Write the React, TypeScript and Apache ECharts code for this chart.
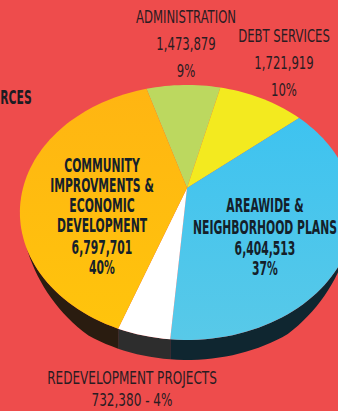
import React, { useEffect, useRef } from "react";
import * as echarts from "echarts";

const categories = ["Administration", "Debt Services", "Areawide & Neighborhood Plans", "Redevelopment Projects", "Community Improvments & Economic Development"];
const amounts = [1473879, 1721919, 6404513, 732380, 6797701];
const heavyTexts = ["COMMUNITY", "IMPROVMENTS &", "ECONOMIC", "DEVELOPMENT", "6,797,701", "40%", "AREAWIDE &", "NEIGHBORHOOD PLANS", "6,404,513", "37%"];
const lightTexts = ["ADMINISTRATION", "1,473,879", "9%", "DEBT SERVICES", "1,721,919", "10%", "REDEVELOPMENT PROJECTS", "732,380 - 4%"];

const topColors = ["#bcd85f", "#f3ea1f", "#3ec3f0", "#ffffff", "#ffb512"];
const bottomColors = ["#bcd85f", "#f3ea1f", "#58c9e8", "#ffffff", "#ffc40c"];
const wallColors = ["#7a8a3a", "#8a8416", "#0f2630", "#2d2d2d", "#2a1c10"];
const heavyAt = [[102, 165], [102, 185], [102, 205], [102, 225], [102, 247], [102, 267], [265, 205], [265, 227], [265, 248], [265, 268]];
const lightAt = [[186, 17], [186, 44], [186, 71], [284, 36], [284, 63], [284, 90], [132, 378], [132, 400]];
const lightScale = [0.72, 0.72, 0.72, 0.72, 0.72, 0.72, 0.745, 0.745];

const total = amounts.reduce((a, b) => a + b, 0);
const START = -17;
const project = (deg: number) => {
  const r = (deg * Math.PI) / 180;
  const u = Math.sin(r);
  const v = -Math.cos(r);
  const d = 1 - 0.192 * v;
  return [187 + (164 * u) / d, 188 + (122.8 * v) / d];
};
const arc = (a: number, b: number) => {
  const pts: number[][] = [];
  const n = Math.max(4, Math.ceil(Math.abs(b - a) / 2));
  for (let i = 0; i <= n; i++) pts.push(project(a + ((b - a) * i) / n));
  return pts;
};

export default function App() {
  const ref = useRef<HTMLDivElement>(null);
  useEffect(() => {
    const chart = echarts.init(ref.current!, undefined, { renderer: "svg" });
    const renderItem = (params: any, api: any) => {
      const i = params.dataIndex;
      let before = 0;
      for (let k = 0; k < i; k++) before += amounts[k];
      const a = START + (before / total) * 360;
      const b = a + (api.value(0) / total) * 360;
      const rim = arc(a, b);
      const shifted = rim.map(([x, y]) => [x, y + 20 * Math.min(1, Math.max(0, (y - 250) / 65))]);
      return {
        type: "group",
        children: [
          {
            type: "polygon",
            z2: 1,
            shape: { points: [...rim, ...shifted.slice().reverse()] },
            style: { fill: wallColors[i] },
          },
          {
            type: "polygon",
            z2: 2,
            shape: { points: [[187, 188], ...rim] },
            style: {
              fill: new echarts.graphic.LinearGradient(0, 0, 0, 1, [
                { offset: 0, color: topColors[i] },
                { offset: 1, color: bottomColors[i] },
              ]),
            },
          },
        ],
      };
    };
    const textEl = (t: string, at: number[], size: number, scale: number, weight: string, color: string) => ({
      type: "text",
      x: at[0],
      y: at[1],
      scaleX: scale,
      z: 10,
      style: {
        text: t,
        textAlign: "center",
        textVerticalAlign: "middle",
        fontFamily: "'Liberation Sans Narrow', 'DejaVu Sans Condensed', sans-serif",
        fontSize: size,
        fontWeight: weight,
        fill: color,
      },
    });
    chart.setOption({
      animation: false,
      backgroundColor: "#ee4c4c",
      series: [
        {
          type: "custom",
          coordinateSystem: "none",
          renderItem,
          data: categories.map((name, i) => ({ name, value: [amounts[i]] })),
          silent: true,
          clip: false,
        },
      ],
      graphic: [
        ...heavyTexts.map((t, i) => textEl(t, heavyAt[i], 20, 0.6, "bold", "#14202a")),
        ...lightTexts.map((t, i) => textEl(t, lightAt[i], 18, lightScale[i], "normal", "#2a1c22")),
        textEl("RCES", [16, 97], 20, 0.6, "bold", "#1c1c22"),
      ],
    });
    return () => chart.dispose();
  }, []);
  return <div ref={ref} style={{ position: "absolute", left: 0, top: 0, width: 338, height: 411 }} />;
}
